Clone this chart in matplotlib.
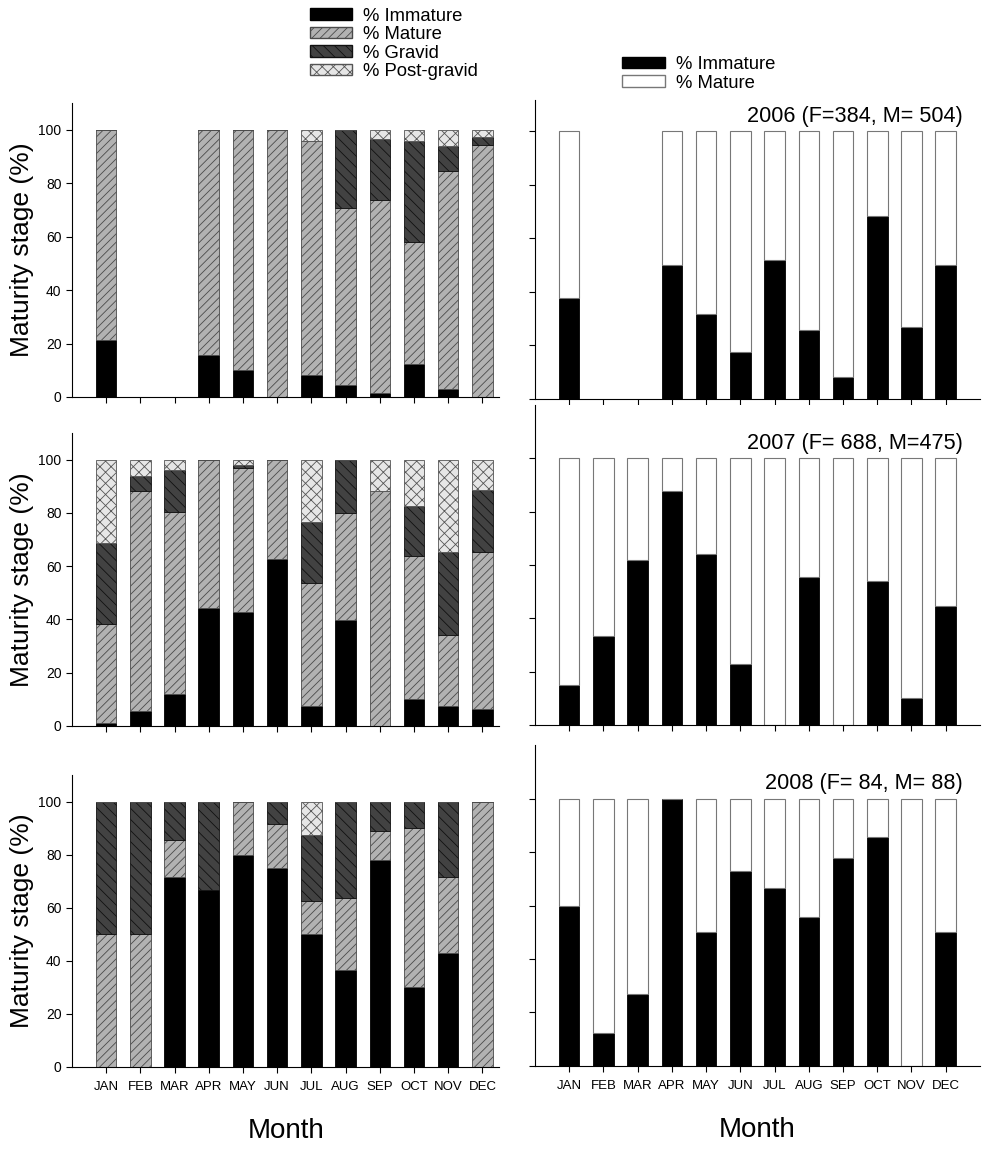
import numpy as np
import matplotlib.pyplot as plt
import matplotlib.transforms as mtransforms
from matplotlib.patches import Patch

plt.rcParams['font.family'] = ['Liberation Sans', 'DejaVu Sans']
plt.rcParams['hatch.linewidth'] = 0.6

months = ['JAN', 'FEB', 'MAR', 'APR', 'MAY', 'JUN', 'JUL', 'AUG', 'SEP', 'OCT', 'NOV', 'DEC']
nan = np.nan

# cumulative tops of each stage (%), left panels
imm_2006 = [21.2, nan, nan, 15.8, 10.1, 0, 8.2, 4.4, 1.4, 12.5, 3.1, 0]
mat_2006 = [100, nan, nan, 100, 100, 100, 95.6, 70.6, 73.7, 58.1, 84.4, 94.1]
grv_2006 = [100, nan, nan, 100, 100, 100, 95.6, 100, 96.4, 95.9, 94.0, 97.1]

imm_2007 = [1.2, 5.7, 12.0, 44.3, 42.8, 62.5, 7.6, 39.9, 0, 10.2, 7.6, 6.4]
mat_2007 = [38.3, 88.0, 80.2, 100, 97.0, 100, 53.6, 79.8, 88.0, 63.7, 34.3, 65.3]
grv_2007 = [68.7, 94.0, 96.0, 100, 98.1, 100, 76.7, 100, 88.0, 82.5, 65.3, 88.4]

imm_2008 = [0, 0, 71.4, 66.7, 80.0, 75.0, 50.0, 36.4, 77.8, 30.0, 42.9, 0]
mat_2008 = [50.0, 50.0, 85.7, 66.7, 100, 91.7, 62.5, 63.6, 88.9, 90.0, 71.4, 100]
grv_2008 = [100, 100, 100, 100, 100, 100, 87.5, 100, 100, 100, 100, 100]

# % immature, right panels
immR_2006 = [37.5, nan, nan, 50.0, 31.7, 17.5, 52.0, 25.8, 8.2, 68.2, 26.8, 50.0]
immR_2007 = [15.0, 33.3, 61.9, 87.6, 64.2, 23.0, 0, 55.6, 0, 53.8, 10.1, 44.6]
immR_2008 = [60.0, 12.5, 27.0, 100, 50.0, 72.8, 66.7, 55.6, 77.8, 85.7, 0, 50.0]

titles = ['2006 (F=384, M= 504)', '2007 (F= 688, M=475)', '2008 (F= 84, M= 88)']

c_imm = 'black'
c_mat = '#b2b2b2'
c_grv = '#424242'
c_pg = '#e6e6e6'
edge = '#4a4a4a'

fig = plt.figure(figsize=(9.99, 11.54), dpi=100)

left_pos = [[0.072, 0.656, 0.428, 0.2548],
            [0.072, 0.3709, 0.428, 0.254],
            [0.072, 0.0754, 0.428, 0.253]]
right_pos = [[0.5355, 0.6542, 0.4454, 0.2591],
             [0.5355, 0.3718, 0.4454, 0.2773],
             [0.5355, 0.0763, 0.4454, 0.278]]
right_ylim = [111.5, 120, 120]

x = np.arange(12)
w = 0.6
left_data = [(imm_2006, mat_2006, grv_2006),
             (imm_2007, mat_2007, grv_2007),
             (imm_2008, mat_2008, grv_2008)]
right_data = [immR_2006, immR_2007, immR_2008]


def style(ax, bottom, labels):
    for s in ['top', 'right']:
        ax.spines[s].set_visible(False)
    ax.set_xticks(x)
    if bottom:
        ax.set_xticklabels(months)
    else:
        ax.set_xticklabels([])
    ax.set_yticks([0, 20, 40, 60, 80, 100])
    if not labels:
        ax.set_yticklabels([])
    ax.tick_params(direction='out', length=4)
    ax.tick_params(axis='x', labelsize=9.5, pad=6)
    ax.tick_params(axis='y', labelsize=10)


for i in range(3):
    imm, mat, grv = [np.array(a, dtype=float) for a in left_data[i]]
    ax = fig.add_axes(left_pos[i])
    ok = ~np.isnan(imm)
    xi = x[ok]
    ax.bar(xi, imm[ok], w, color=c_imm, edgecolor=c_imm, lw=0.6)
    ax.bar(xi, mat[ok] - imm[ok], w, bottom=imm[ok], color=c_mat, edgecolor=edge,
           hatch='////', lw=0.6)
    ax.bar(xi, grv[ok] - mat[ok], w, bottom=mat[ok], color=c_grv, edgecolor='#111111',
           hatch='\\\\\\', lw=0.6)
    ax.bar(xi, 100 - grv[ok], w, bottom=grv[ok], color=c_pg, edgecolor='#555555',
           hatch='xxx', lw=0.6)
    ax.set_xlim(-1, 11.5)
    ax.set_ylim(0, 110)
    ax.set_ylabel('Maturity stage (%)', fontsize=19, labelpad=3)
    style(ax, i == 2, True)
    if i == 2:
        ax.set_xlabel('Month', fontsize=20, labelpad=18)

    r = np.array(right_data[i], dtype=float)
    ax2 = fig.add_axes(right_pos[i])
    ok = ~np.isnan(r)
    xi = x[ok]
    ax2.bar(xi, r[ok], w, color='black', edgecolor='black', lw=0.6)
    ax2.bar(xi, 100 - r[ok], w, bottom=r[ok], color='white', edgecolor='#777777', lw=0.8)
    ax2.set_xlim(-1, 12)
    ax2.set_ylim(0, right_ylim[i])
    style(ax2, i == 2, False)
    tr = mtransforms.blended_transform_factory(ax2.transAxes, ax2.transData)
    ax2.text(0.962, 105.5, titles[i], fontsize=15.6, ha='right', va='center', transform=tr)
    if i == 2:
        ax2.set_xlabel('Month', fontsize=20, labelpad=18)

leg_kw = dict(loc='upper left', frameon=False, fontsize=13.3, handlelength=2.3,
              handleheight=0.6, labelspacing=0.08, handletextpad=0.6, borderaxespad=0.2)

h_left = [Patch(facecolor=c_imm, edgecolor=c_imm, label='% Immature'),
          Patch(facecolor=c_mat, edgecolor=edge, hatch='////', label='% Mature'),
          Patch(facecolor=c_grv, edgecolor='#111111', hatch='\\\\\\', label='% Gravid'),
          Patch(facecolor=c_pg, edgecolor='#555555', hatch='xxx', label='% Post-gravid')]
fig.legend(handles=h_left, bbox_to_anchor=(0.299, 1.003), **leg_kw)

h_right = [Patch(facecolor='black', edgecolor='black', label='% Immature'),
           Patch(facecolor='white', edgecolor='#777777', label='% Mature')]
fig.legend(handles=h_right, bbox_to_anchor=(0.612, 0.961), **leg_kw)

fig.savefig('out.png', dpi=100)
